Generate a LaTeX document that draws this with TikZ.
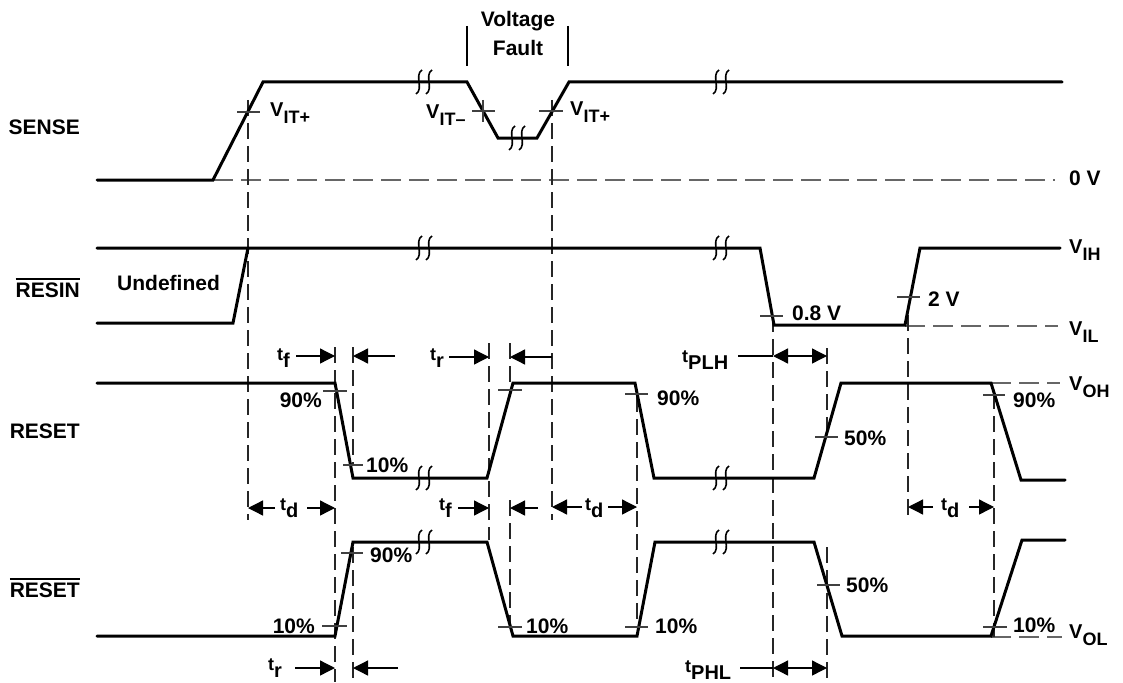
\documentclass[tikz,border=0pt]{standalone}
\usepackage{fontspec}
\setmainfont{Liberation Sans}
\usetikzlibrary{arrows.meta}
\newcommand\vsub[2]{\fontsize{20}{24}\selectfont #1\raisebox{-7pt}{\fontsize{18}{20}\selectfont #2}}
\newcommand\tsub[1]{\fontsize{18}{22}\selectfont t\raisebox{-7pt}{\fontsize{20}{24}\selectfont #1}}
\newcommand\ovl[1]{\leavevmode\vbox{\hrule height 1.8pt\kern 2.5pt\hbox{#1}}}
\tikzset{
  sig/.style={line width=3pt, line cap=round},
  guide/.style={line width=1.1pt, black!85, dash pattern=on 16pt off 7pt},
  refl/.style={line width=1.7pt, black!60, dash pattern=on 20pt off 8pt},
  tick/.style={line width=1.3pt, black!75},
  dimr/.style={line width=1.3pt, -{Triangle[length=15pt,width=15pt]}},
  dimb/.style={line width=1.3pt, {Triangle[length=15pt,width=15pt]}-{Triangle[length=15pt,width=15pt]}},
  plain/.style={line width=1.3pt},
  lbl/.style={font=\fontsize{21}{25}\selectfont\bfseries, inner sep=0pt},
  brkpic/.pic={\draw[line width=1.6pt] (3,-12) .. controls (-5,-7) and (5,7) .. (-3,12);},
  vfl/.style={line width=1.2pt}
}
\newcommand\brkmark[2]{\pic at (#1,#2) {brkpic}; \pic at (#1+10,#2) {brkpic};}
\begin{document}
\begin{tikzpicture}[x=1pt,y=-1pt]
\useasboundingbox (0,0) rectangle (1123,682);

% reference dashed levels
\draw[refl] (213,180) -- (1055,180);
\draw[refl] (905,326) -- (1058,326);
\draw[refl] (991,383) -- (1060,383);
\draw[refl] (991,637) -- (1062,637);

% vertical guides
\draw[guide] (248,100) -- (248,520);
\draw[guide] (552,100) -- (552,520);
\draw[guide] (335,347) -- (335,682);
\draw[guide] (353,347) -- (353,465);
\draw[guide] (353,547) -- (353,682);
\draw[guide] (489,343) -- (489,540);
\draw[guide] (510,343) -- (510,392);
\draw[guide] (510,500) -- (510,627);
\draw[guide] (637,396) -- (637,627);
\draw[guide] (773,316) -- (773,682);
\draw[guide] (827,348) -- (827,437);
\draw[guide] (827,547) -- (827,682);
\draw[guide] (908,315) -- (908,520);
\draw[guide] (994,393) -- (994,637);

% signals
\draw[sig] (97,180) -- (213,180) -- (263,82) -- (467,82) -- (498,138) -- (537,138) -- (569,82) -- (1062,82);
\draw[sig] (97,248) -- (760,248) -- (774,325) -- (905,325) -- (920,248) -- (1060,248);
\draw[sig] (97,323) -- (233,323) -- (248,248);
\draw[sig] (97,383) -- (335,383) -- (353,478) -- (487,478) -- (513,383) -- (635,383) -- (654,478) -- (814,478) -- (841,383) -- (991,383) -- (1021,480) -- (1065,480);
\draw[sig] (97,636) -- (335,636) -- (353,542) -- (487,542) -- (513,636) -- (637,636) -- (655,542) -- (814,542) -- (842,636) -- (991,636) -- (1022,540) -- (1065,540);

% breaks
\brkmark{419}{82}
\brkmark{716}{82}
\brkmark{512}{138}
\brkmark{419}{248}
\brkmark{716}{248}
\brkmark{419}{478}
\brkmark{716}{478}
\brkmark{419}{542}
\brkmark{716}{542}

% crosshair ticks
\draw[tick] (237,112) -- (260,112);
\draw[tick] (472,111) -- (495,111);
\draw[tick] (483,100) -- (483,122);
\draw[tick] (539,111) -- (563,111);
\draw[tick] (760,316) -- (783,316);
\draw[tick] (897,297) -- (920,297);
\draw[tick] (323,391) -- (347,391);
\draw[tick] (343,465) -- (363,465);
\draw[tick] (498,390) -- (522,390);
\draw[tick] (625,394) -- (648,394);
\draw[tick] (815,437) -- (838,437);
\draw[tick] (983,395) -- (1005,395);
\draw[tick] (322,626) -- (347,626);
\draw[tick] (341,553) -- (363,553);
\draw[tick] (498,627) -- (522,627);
\draw[tick] (625,627) -- (648,627);
\draw[tick] (817,585) -- (840,585);
\draw[tick] (983,627) -- (1007,627);

% voltage fault markers
\draw[vfl] (467,26) -- (467,66);
\draw[vfl] (568,26) -- (568,66);

% dimension arrows
\draw[dimr] (296,356) -- (335,356);
\draw[dimr] (395,356) -- (353,356);
\draw[dimr] (449,357) -- (489,357);
\draw[dimr] (552,357) -- (510,357);
\draw[plain] (738,356) -- (773,356);
\draw[dimb] (773,356) -- (827,356);
\draw[dimr] (275,508) -- (248,508);
\draw[dimr] (307,508) -- (335,508);
\draw[dimr] (458,508) -- (489,508);
\draw[dimr] (538,508) -- (510,508);
\draw[dimr] (582,507) -- (552,507);
\draw[dimr] (608,507) -- (637,507);
\draw[dimr] (933,507) -- (908,507);
\draw[dimr] (969,507) -- (994,507);
\draw[dimr] (295,668) -- (335,668);
\draw[dimr] (398,668) -- (353,668);
\draw[plain] (740,668) -- (773,668);
\draw[dimb] (773,668) -- (827,668);

% signal names
\node[lbl, anchor=base east] (nsense) at (80,134) {SENSE};
\node[lbl, anchor=base east] (nresin) at (80,297) {\ovl{RESIN}};
\node[lbl, anchor=base east] (nreset) at (80,438) {RESET};
\node[lbl, anchor=base east] (nresetb) at (80,597) {\ovl{RESET}};
\node[lbl, anchor=base west] (nundef) at (117,290) {Undefined};

% voltage labels
\node[lbl, anchor=base west] (vitp1) at (270,117) {\vsub{V}{IT+}};
\node[lbl, anchor=base west] (vitm) at (426,118) {\vsub{V}{IT–}};
\node[lbl, anchor=base west] (vitp2) at (570,115) {\vsub{V}{IT+}};
\node[lbl] (vf1) at (518,21) {Voltage};
\node[lbl] (vf2) at (518,48) {Fault};
\node[lbl, anchor=base west] (zerov) at (1069,185) {0 V};
\node[lbl, anchor=base west] (vih) at (1069,253) {\vsub{V}{IH}};
\node[lbl, anchor=base west] (vil) at (1069,335) {\vsub{V}{IL}};
\node[lbl, anchor=base west] (v08) at (792,320) {0.8 V};
\node[lbl, anchor=base west] (v2) at (928,306) {2 V};
\node[lbl, anchor=base west] (voh) at (1069,390) {\vsub{V}{OH}};
\node[lbl, anchor=base west] (vol) at (1069,638) {\vsub{V}{OL}};

% percentages
\node[lbl, anchor=base east] (p1) at (322,407) {90\%};
\node[lbl, anchor=base west] (p2) at (366,472) {10\%};
\node[lbl, anchor=base west] (p3) at (657,405) {90\%};
\node[lbl, anchor=base west] (p4) at (844,445) {50\%};
\node[lbl, anchor=base west] (p5) at (1013,407) {90\%};
\node[lbl, anchor=base east] (p6) at (315,633) {10\%};
\node[lbl, anchor=base west] (p7) at (370,562) {90\%};
\node[lbl, anchor=base west] (p8) at (526,633) {10\%};
\node[lbl, anchor=base west] (p9) at (655,633) {10\%};
\node[lbl, anchor=base west] (p10) at (846,592) {50\%};
\node[lbl, anchor=base west] (p11) at (1013,632) {10\%};

% timing labels
\node[lbl, anchor=base west] (tf1) at (277,360) {\tsub{f}};
\node[lbl, anchor=base west] (tr1) at (430,360) {\tsub{r}};
\node[lbl, anchor=base west] (tplh) at (682,362) {\tsub{PLH}};
\node[lbl, anchor=base west] (td1) at (280,510) {\tsub{d}};
\node[lbl, anchor=base west] (tf2) at (439,510) {\tsub{f}};
\node[lbl, anchor=base west] (td2) at (585,510) {\tsub{d}};
\node[lbl, anchor=base west] (td3) at (941,510) {\tsub{d}};
\node[lbl, anchor=base west] (tr2) at (268,670) {\tsub{r}};
\node[lbl, anchor=base west] (tphl) at (685,672) {\tsub{PHL}};
\end{tikzpicture}
\end{document}
